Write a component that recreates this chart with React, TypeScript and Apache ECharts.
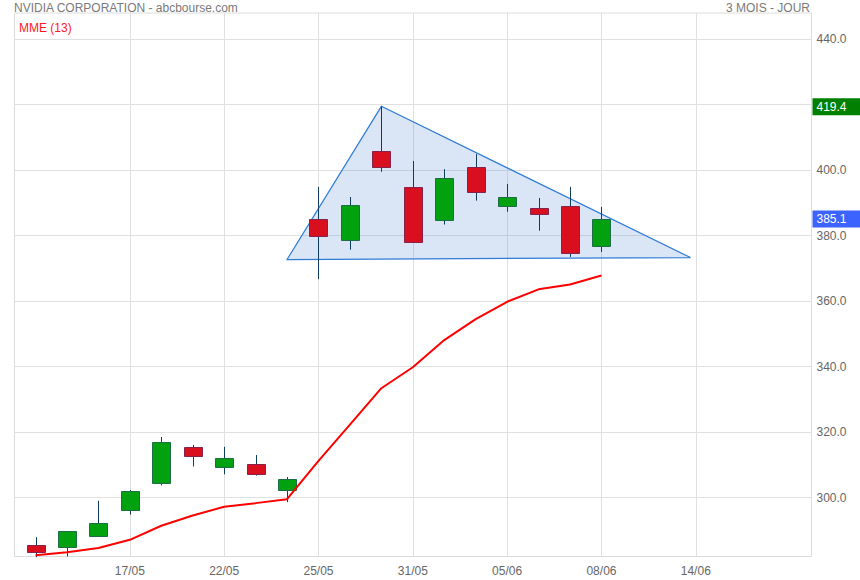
import React, { useEffect, useRef } from "react";
import * as echarts from "echarts";

// Trading days 12/05 → 08/06 (index 0..18)
const dates = ["12/05","15/05","16/05","17/05","18/05","19/05","22/05","23/05","24/05","25/05","26/05","30/05","31/05","01/06","02/06","05/06","06/06","07/06","08/06"];
const opens  = [285.5, 285.0, 288.4, 296.2, 304.4, 315.4, 309.3, 310.2, 302.3, 385.0, 378.8, 405.8, 394.8, 384.7, 400.9, 389.0, 388.4, 389.0, 376.9];
const closes = [283.5, 289.7, 292.2, 302.0, 316.9, 312.6, 312.0, 307.1, 305.6, 379.8, 389.3, 400.9, 378.2, 397.5, 393.3, 391.7, 386.5, 374.6, 385.1];
const lows   = [281.8, 282.0, 288.0, 294.8, 303.7, 309.5, 307.1, 306.7, 298.6, 366.7, 375.7, 399.5, 378.0, 383.4, 390.7, 387.3, 381.5, 373.5, 375.0];
const highs  = [287.9, 289.7, 299.0, 302.3, 318.5, 316.1, 315.5, 313.0, 306.3, 394.9, 391.8, 419.4, 402.8, 400.3, 404.9, 395.8, 391.5, 394.9, 388.8];
const mme13  = [282.4, 283.3, 284.6, 287.1, 291.4, 294.5, 297.2, 298.3, 299.5, 311.2, 322.3, 333.4, 339.8, 348.1, 354.5, 359.8, 363.6, 365.1, 367.8];

// x-axis tick labels and their slot index
const tickIdx = [3, 6, 9, 12, 15, 18, 21];
const tickLabels = ["17/05", "22/05", "25/05", "31/05", "05/06", "08/06", "14/06"];

// y-axis ticks
const yTicks = [300, 320, 340, 360, 380, 400, 420, 440];

// triangle drawn on the chart (slot index, price)
const triX = [8, 11, 20.83];
const triY = [372.7, 419.5, 373.3];

// price markers
const maxHigh = 419.4;
const lastClose = 385.1;

const FONT = 'Arial, "Liberation Sans", sans-serif';

export default function App() {
  const ref = useRef<HTMLDivElement>(null);
  useEffect(() => {
    if (!ref.current) return;
    const chart = echarts.init(ref.current, null, { renderer: "svg" });
    const candleData = dates.map((_, i) => [i, opens[i], closes[i], lows[i], highs[i]]);
    const labelMap: Record<number, string> = {};
    tickIdx.forEach((v, k) => (labelMap[v] = tickLabels[k]));

    chart.setOption({
      animation: false,
      backgroundColor: "#fff",
      textStyle: { fontFamily: FONT },
      title: [
        { text: "NVIDIA CORPORATION - abcbourse.com", left: 14, top: 2, padding: 0,
          textStyle: { fontSize: 12, color: "#7a7a7a", fontWeight: "normal", fontFamily: FONT } },
        { text: "3 MOIS - JOUR", right: 50, top: 2, padding: 0,
          textStyle: { fontSize: 12, color: "#7a7a7a", fontWeight: "normal", fontFamily: FONT } },
        { text: "MME (13)", left: 19, top: 22, padding: 0,
          textStyle: { fontSize: 12, color: "#ff1a1a", fontWeight: "normal", fontFamily: FONT } },
      ],
      grid: {
        left: 14.5, right: 48.5, top: 13, bottom: 23.5,
        show: true, borderColor: "#dcdcdc", borderWidth: 1, containLabel: false,
      },
      xAxis: {
        type: "value",
        min: -0.668,
        max: 24.68,
        axisLine: { show: false },
        axisTick: { show: false, customValues: tickIdx },
        axisLabel: {
          customValues: tickIdx,
          formatter: (v: number) => labelMap[Math.round(v)] ?? "",
          color: "#666", fontSize: 12, margin: 8, fontFamily: FONT,
        },
        splitLine: { show: true, lineStyle: { color: "#e0e0e0", width: 1 } },
      },
      yAxis: {
        type: "value",
        position: "right",
        min: 282,
        max: 448,
        axisLine: { show: false },
        axisTick: { show: false, customValues: yTicks },
        axisLabel: {
          customValues: yTicks,
          formatter: (v: number) => v.toFixed(1),
          color: "#666", fontSize: 12, margin: 5, fontFamily: FONT,
          padding: [0, 0, 4, 0],
        },
        splitLine: { show: true, lineStyle: { color: "#e0e0e0", width: 1 } },
      },
      series: [
        {
          type: "custom",
          name: "triangle",
          z: 1,
          silent: true,
          data: [[triX[0], triY[0], triX[1], triY[1], triX[2], triY[2]]],
          encode: { x: [0, 2, 4], y: [1, 3, 5] },
          renderItem: (_p: any, api: any) => {
            const pts = [0, 1, 2].map((k) => api.coord([api.value(2 * k), api.value(2 * k + 1)]));
            return {
              type: "polygon",
              shape: { points: pts },
              style: { fill: "rgba(70,130,210,0.2)", stroke: "#2f7bd6", lineWidth: 1.2 },
            };
          },
        },
        {
          type: "custom",
          name: "NVIDIA",
          z: 3,
          silent: true,
          data: candleData,
          encode: { x: 0, y: [1, 2, 3, 4] },
          renderItem: (_p: any, api: any) => {
            const x = api.value(0);
            const o = api.value(1), c = api.value(2), l = api.value(3), h = api.value(4);
            const pO = api.coord([x, o]);
            const pC = api.coord([x, c]);
            const pL = api.coord([x, l]);
            const pH = api.coord([x, h]);
            const up = c >= o;
            const w = 18;
            const cx = Math.round(pO[0]) + 0.5;
            const top = Math.round(Math.min(pO[1], pC[1])) + 0.5;
            const bot = Math.round(Math.max(pO[1], pC[1])) + 0.5;
            return {
              type: "group",
              children: [
                { type: "line", shape: { x1: cx, y1: pH[1], x2: cx, y2: pL[1] },
                  style: { stroke: "#0e3d5f", lineWidth: 1 } },
                { type: "rect", shape: { x: cx - w / 2, y: top, width: w, height: Math.max(bot - top, 1) },
                  style: { fill: up ? "#02a10f" : "#d90f1f", stroke: up ? "#1c6e45" : "#86234a", lineWidth: 1 } },
              ],
            };
          },
        },
        {
          type: "line",
          name: "MME (13)",
          z: 4,
          clip: false,
          data: mme13.map((v, i) => [i, v]),
          symbol: "none",
          lineStyle: { color: "#ff0000", width: 2 },
          markLine: {
            silent: true,
            symbol: "none",
            lineStyle: { color: "rgba(0,0,0,0)", width: 0 },
            label: {
              show: true,
              position: "end",
              distance: 1,
              color: "#fff",
              fontSize: 12,
              fontFamily: FONT,
              lineHeight: 13,
              padding: [2, 20, 2, 4],
              formatter: (p: any) => Number(p.value).toFixed(1),
            },
            data: [
              { yAxis: maxHigh, label: { backgroundColor: "#007f00" } },
              { yAxis: lastClose, label: { backgroundColor: "#3d63ff" } },
            ],
          },
        },
      ],
    });
    return () => chart.dispose();
  }, []);
  return <div ref={ref} style={{ position: "fixed", left: 0, top: 0, width: 860, height: 580 }} />;
}
